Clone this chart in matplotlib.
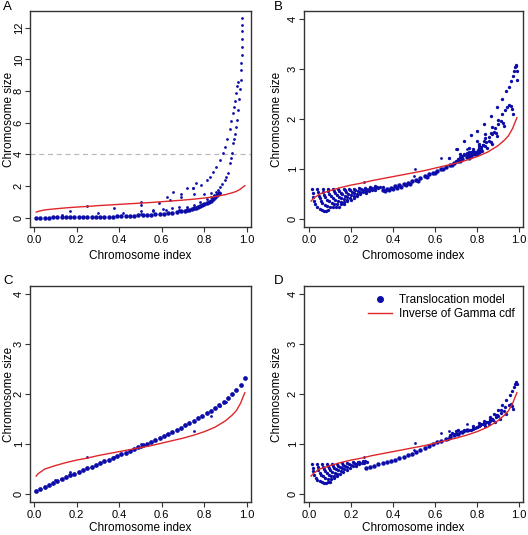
import matplotlib
matplotlib.use("Agg")
import matplotlib.pyplot as plt
import numpy as np
from matplotlib.lines import Line2D

plt.rcParams['font.family'] = ['Liberation Sans', 'DejaVu Sans']

# ---- reference curve: inverse of Gamma cdf ----
red_x = [0.01, 0.02, 0.05, 0.1, 0.15, 0.2, 0.25, 0.3, 0.35, 0.4, 0.45, 0.5, 0.55,
         0.6, 0.65, 0.7, 0.75, 0.8, 0.85, 0.9, 0.93, 0.95, 0.97, 0.98, 0.99]
red_y = [0.35, 0.40, 0.49, 0.56, 0.62, 0.67, 0.71, 0.76, 0.80, 0.84, 0.88, 0.92, 0.96,
         1.01, 1.06, 1.11, 1.17, 1.24, 1.33, 1.46, 1.57, 1.66, 1.81, 1.92, 2.02]

# ---- panel A ----
a_band_x = [0.01, 0.03, 0.05, 0.07, 0.09, 0.11, 0.13, 0.15, 0.17, 0.19, 0.21, 0.23, 0.25,
            0.27, 0.29, 0.31, 0.33, 0.35, 0.37, 0.39, 0.41, 0.43, 0.45, 0.47, 0.49, 0.51,
            0.53, 0.55, 0.57, 0.59, 0.61, 0.63, 0.65, 0.67, 0.69, 0.71, 0.72, 0.73, 0.74,
            0.75, 0.76, 0.77, 0.78, 0.79, 0.80, 0.81, 0.82, 0.83, 0.84, 0.85, 0.86, 0.87]
a_band_y = [0.01, 0.01, 0.01, 0.01, 0.02, 0.02, 0.02, 0.02, 0.03, 0.03, 0.03, 0.04, 0.04,
            0.04, 0.05, 0.05, 0.06, 0.07, 0.07, 0.08, 0.09, 0.10, 0.11, 0.12, 0.14, 0.15,
            0.17, 0.19, 0.21, 0.23, 0.26, 0.29, 0.32, 0.36, 0.40, 0.45, 0.48, 0.51, 0.55,
            0.58, 0.62, 0.67, 0.72, 0.78, 0.84, 0.90, 0.98, 1.06, 1.16, 1.28, 1.42, 1.58]
a_fringe_x = [0.56, 0.606, 0.65, 0.68, 0.72, 0.75, 0.78, 0.81]
a_fringe_y = [0.49, 0.53, 0.60, 0.65, 0.70, 0.80, 1.00, 1.20]
a_mid_x = [0.83, 0.845, 0.855, 0.865, 0.875, 0.885, 0.895, 0.903, 0.911, 0.919, 0.925,
           0.93, 0.934, 0.94, 0.945, 0.95, 0.955, 0.96, 0.963, 0.966, 0.97, 0.972,
           0.974, 0.975, 0.976, 0.977, 0.978, 0.978, 0.979]
a_mid_y = [1.3, 1.45, 1.6, 1.75, 1.95, 2.15, 2.4, 2.6, 2.8, 3.44, 3.8, 4.07, 4.7, 5.0,
           5.3, 5.7, 6.17, 6.8, 7.5, 8.1, 8.7, 9.3, 9.8, 10.3, 10.8, 11.3, 11.8, 12.2, 12.6]
a_up_x = [0.654, 0.69, 0.717, 0.747, 0.763, 0.785, 0.81, 0.825, 0.84, 0.856, 0.872, 0.887,
          0.895, 0.906, 0.919, 0.926, 0.933, 0.938, 0.943, 0.948, 0.952, 0.956]
a_up_y = [1.6, 1.5, 1.9, 1.86, 2.2, 2.07, 2.38, 2.59, 2.9, 3.2, 3.64, 4.07,
          4.48, 5.0, 5.6, 6.1, 6.6, 7.0, 7.4, 7.9, 8.3, 8.6]
a_iso_x = [0.13, 0.17, 0.25, 0.3, 0.377, 0.42, 0.5, 0.5, 0.5, 0.5, 0.56, 0.585, 0.62,
           0.623, 0.64, 0.68, 0.69, 0.745, 0.75, 0.8, 0.833, 0.875]
a_iso_y = [0.17, 0.42, 0.74, 0.3, 0.63, 0.3, 1.01, 0.8, 0.4, 0.2, 0.44, 0.95, 0.5,
           1.29, 1.1, 0.5, 1.28, 1.86, 1.5, 1.5, 1.55, 1.55]

# ---- panel B ----
b_arc_x = [0.015, 0.017, 0.02, 0.025, 0.03, 0.04, 0.05, 0.06, 0.07, 0.08, 0.09,
           0.04, 0.042, 0.046, 0.05, 0.056, 0.064, 0.075, 0.085, 0.1, 0.115, 0.13, 0.145,
           0.065, 0.067, 0.071, 0.077, 0.085, 0.095, 0.107, 0.12, 0.135, 0.15, 0.165,
           0.09, 0.092, 0.097, 0.104, 0.113, 0.124, 0.137, 0.151, 0.166, 0.18,
           0.115, 0.118, 0.124, 0.132, 0.142, 0.154, 0.168, 0.183, 0.198,
           0.14, 0.143, 0.15, 0.159, 0.17, 0.183, 0.197, 0.212,
           0.165, 0.169, 0.177, 0.187, 0.199, 0.213, 0.228,
           0.19, 0.195, 0.204, 0.215, 0.228, 0.243,
           0.215, 0.221, 0.231, 0.243, 0.257, 0.272,
           0.24, 0.247, 0.258, 0.271, 0.286,
           0.265, 0.273, 0.285, 0.299, 0.314,
           0.29, 0.299, 0.312, 0.327,
           0.315, 0.325, 0.339, 0.354]
b_arc_y = [0.6, 0.52, 0.44, 0.36, 0.3, 0.23, 0.19, 0.17, 0.16, 0.16, 0.17,
           0.6, 0.53, 0.46, 0.41, 0.36, 0.32, 0.28, 0.26, 0.24, 0.23, 0.23, 0.24,
           0.6, 0.54, 0.48, 0.43, 0.38, 0.35, 0.32, 0.3, 0.29, 0.29, 0.3,
           0.6, 0.55, 0.5, 0.45, 0.41, 0.38, 0.36, 0.34, 0.34, 0.35,
           0.6, 0.56, 0.51, 0.47, 0.44, 0.41, 0.39, 0.38, 0.38,
           0.6, 0.56, 0.52, 0.49, 0.46, 0.44, 0.42, 0.42,
           0.6, 0.57, 0.53, 0.5, 0.48, 0.46, 0.46,
           0.6, 0.57, 0.54, 0.52, 0.5, 0.49,
           0.6, 0.58, 0.56, 0.54, 0.53, 0.52,
           0.61, 0.59, 0.57, 0.56, 0.55,
           0.62, 0.6, 0.59, 0.58, 0.58,
           0.63, 0.62, 0.61, 0.61,
           0.65, 0.64, 0.63, 0.64]
b_band_x = [0.35, 0.37, 0.39, 0.41, 0.43, 0.45, 0.47, 0.49, 0.51, 0.53, 0.55, 0.57, 0.59,
            0.61, 0.63, 0.65, 0.67, 0.69, 0.71, 0.73, 0.75, 0.77, 0.79, 0.81]
b_band_y = [0.57, 0.60, 0.62, 0.65, 0.67, 0.69, 0.72, 0.75, 0.78, 0.81, 0.85, 0.89, 0.92,
            0.96, 1.00, 1.04, 1.08, 1.12, 1.16, 1.19, 1.23, 1.26, 1.30, 1.33]
b_band2_x = [0.36, 0.38, 0.40, 0.42, 0.44, 0.46, 0.48, 0.52, 0.56, 0.60, 0.64, 0.68,
             0.72, 0.76, 0.80]
b_band2_y = [0.55, 0.57, 0.60, 0.62, 0.64, 0.67, 0.70, 0.76, 0.83, 0.91, 0.99, 1.07,
             1.15, 1.22, 1.29]
b_fan_x = [0.667, 0.706, 0.738, 0.77, 0.8, 0.833, 0.865, 0.897, 0.921, 0.94, 0.952, 0.962,
           0.97, 0.976, 0.98, 0.984, 0.987, 0.99, 0.992,
           0.72, 0.76, 0.8, 0.84, 0.87, 0.9, 0.92, 0.935, 0.945, 0.953, 0.96, 0.966, 0.972,
           0.74, 0.78, 0.81, 0.84, 0.865, 0.885, 0.9, 0.913, 0.922, 0.93,
           0.75, 0.78, 0.81, 0.835, 0.855, 0.87, 0.88, 0.89, 0.897,
           0.76, 0.79, 0.81, 0.83, 0.845, 0.857, 0.866, 0.872,
           0.77, 0.79, 0.805, 0.82, 0.83, 0.84, 0.846,
           0.78, 0.795, 0.81, 0.82, 0.826,
           0.7, 0.71, 0.72, 0.73, 0.74, 0.75, 0.76, 0.77]
b_fan_y = [1.22, 1.39, 1.56, 1.67, 1.76, 1.9, 2.06, 2.23, 2.4, 2.55, 2.64, 2.75,
           2.85, 2.95, 3.03, 3.08, 3.05, 2.95, 2.78,
           1.3, 1.42, 1.55, 1.7, 1.84, 1.98, 2.1, 2.18, 2.24, 2.28, 2.26, 2.2, 2.1,
           1.28, 1.4, 1.5, 1.62, 1.72, 1.82, 1.9, 1.95, 1.92, 1.86,
           1.27, 1.36, 1.45, 1.55, 1.63, 1.69, 1.73, 1.71, 1.66,
           1.27, 1.34, 1.41, 1.48, 1.53, 1.56, 1.54, 1.5,
           1.28, 1.33, 1.38, 1.43, 1.47, 1.46, 1.42,
           1.3, 1.34, 1.38, 1.39, 1.36,
           1.16, 1.2, 1.23, 1.26, 1.29, 1.31, 1.33, 1.34]
b_iso_x = [0.26, 0.505, 0.5, 0.63, 0.70, 0.75]
b_iso_y = [0.73, 0.99, 0.85, 1.22, 1.39, 1.40]

# ---- panel C ----
c_x = [0.01, 0.03, 0.05, 0.07, 0.09, 0.11, 0.13, 0.15, 0.17, 0.19, 0.21, 0.23, 0.25,
       0.27, 0.29, 0.31, 0.33, 0.35, 0.37, 0.39, 0.41, 0.43, 0.45, 0.47, 0.49, 0.51,
       0.53, 0.55, 0.57, 0.59, 0.61, 0.63, 0.65, 0.67, 0.69, 0.71, 0.73, 0.75, 0.77,
       0.79, 0.81, 0.83, 0.85, 0.87, 0.89, 0.91, 0.93, 0.95, 0.97, 0.99]
c_y = [0.06, 0.10, 0.14, 0.18, 0.22, 0.26, 0.30, 0.33, 0.37, 0.40, 0.44, 0.47, 0.51,
       0.54, 0.58, 0.61, 0.65, 0.68, 0.72, 0.75, 0.79, 0.82, 0.86, 0.89, 0.93, 0.97,
       1.00, 1.04, 1.08, 1.12, 1.16, 1.20, 1.24, 1.28, 1.32, 1.37, 1.41, 1.46, 1.51,
       1.56, 1.61, 1.66, 1.72, 1.78, 1.84, 1.91, 1.99, 2.07, 2.17, 2.32]
c_iso_x = [0.1, 0.125, 0.167, 0.25, 0.375, 0.5, 0.5, 0.625, 0.75, 0.833, 0.875, 0.9]
c_iso_y = [0.27, 0.30, 0.43, 0.74, 0.73, 1.0, 0.93, 1.19, 1.26, 1.55, 1.75, 1.83]

# ---- panel D ----
d_arc_x = [0.015, 0.017, 0.02, 0.025, 0.032, 0.04, 0.05, 0.06, 0.07, 0.08, 0.09, 0.1,
           0.039, 0.041, 0.045, 0.05, 0.057, 0.066, 0.077, 0.09, 0.104, 0.118,
           0.063, 0.065, 0.07, 0.076, 0.084, 0.094, 0.106, 0.12, 0.135,
           0.087, 0.09, 0.095, 0.102, 0.111, 0.122, 0.135, 0.149,
           0.111, 0.114, 0.12, 0.128, 0.138, 0.15, 0.164,
           0.135, 0.139, 0.146, 0.155, 0.166, 0.179,
           0.159, 0.164, 0.172, 0.182, 0.194,
           0.183, 0.189, 0.198, 0.21, 0.223,
           0.207, 0.214, 0.224, 0.237,
           0.231, 0.239, 0.25, 0.263,
           0.255, 0.265, 0.278]
d_arc_y = [0.6, 0.52, 0.45, 0.38, 0.32, 0.28, 0.25, 0.23, 0.22, 0.22, 0.23, 0.24,
           0.6, 0.53, 0.47, 0.42, 0.38, 0.35, 0.32, 0.3, 0.3, 0.31,
           0.6, 0.54, 0.49, 0.45, 0.41, 0.38, 0.36, 0.35, 0.35,
           0.6, 0.55, 0.51, 0.47, 0.44, 0.42, 0.4, 0.4,
           0.6, 0.56, 0.52, 0.49, 0.47, 0.45, 0.44,
           0.6, 0.56, 0.53, 0.51, 0.49, 0.48,
           0.61, 0.58, 0.55, 0.53, 0.52,
           0.62, 0.6, 0.58, 0.56, 0.55,
           0.63, 0.61, 0.6, 0.59,
           0.64, 0.63, 0.62, 0.61,
           0.66, 0.65, 0.64]
d_band_x = [0.27, 0.29, 0.31, 0.33, 0.35, 0.37, 0.39, 0.41, 0.43, 0.45, 0.47, 0.49, 0.51,
            0.53, 0.55, 0.57, 0.59, 0.61, 0.63, 0.65, 0.67, 0.69, 0.71, 0.73, 0.75]
d_band_y = [0.52, 0.54, 0.56, 0.59, 0.61, 0.63, 0.66, 0.68, 0.71, 0.74, 0.77, 0.80, 0.84,
            0.88, 0.92, 0.96, 1.00, 1.03, 1.06, 1.10, 1.13, 1.17, 1.20, 1.24, 1.28]
d_fan_x = [0.7, 0.74, 0.78, 0.81, 0.833, 0.86, 0.88, 0.9, 0.92, 0.94, 0.955, 0.965,
           0.975, 0.982, 0.988, 0.992,
           0.74, 0.78, 0.82, 0.86, 0.89, 0.915, 0.935, 0.95, 0.96, 0.967, 0.972,
           0.76, 0.8, 0.84, 0.87, 0.895, 0.915, 0.93, 0.94,
           0.77, 0.81, 0.845, 0.87, 0.89, 0.9, 0.908,
           0.78, 0.81, 0.84, 0.86, 0.875, 0.884,
           0.79, 0.815, 0.835, 0.85, 0.858,
           0.8, 0.815, 0.83, 0.836,
           0.66, 0.67, 0.68, 0.69, 0.7, 0.71, 0.72]
d_fan_y = [1.2, 1.27, 1.35, 1.41, 1.45, 1.53, 1.6, 1.68, 1.77, 1.88, 1.97, 2.05,
           2.13, 2.19, 2.23, 2.2,
           1.25, 1.32, 1.4, 1.5, 1.58, 1.67, 1.74, 1.78, 1.8, 1.76, 1.7,
           1.27, 1.34, 1.43, 1.5, 1.57, 1.62, 1.65, 1.6,
           1.28, 1.36, 1.43, 1.49, 1.53, 1.55, 1.5,
           1.3, 1.36, 1.42, 1.46, 1.48, 1.44,
           1.32, 1.37, 1.41, 1.43, 1.39,
           1.34, 1.37, 1.39, 1.36,
           1.1, 1.17, 1.22, 1.2, 1.25, 1.28, 1.24]
d_iso_x = [0.26, 0.505, 0.5, 0.63, 0.667, 0.75]
d_iso_y = [0.73, 1.01, 0.88, 1.22, 1.25, 1.40]

BLUE = '#0c0ca8'
RED = '#e0262a'


def setup(ax, ylim, yticks, xlim, ylab_x, xlab_y):
    ax.set_xlim(*xlim)
    ax.set_ylim(*ylim)
    ax.set_xticks([0.0, 0.2, 0.4, 0.6, 0.8, 1.0])
    ax.set_xticklabels(['0.0', '0.2', '0.4', '0.6', '0.8', '1.0'])
    ax.set_yticks(yticks)
    ax.set_yticklabels([str(t) for t in yticks], rotation=90, va='center')
    ax.tick_params(length=3.6, width=0.8, labelsize=8, pad=2, color='#333333')
    ax.tick_params(axis='y', pad=1)
    for s in ax.spines.values():
        s.set_linewidth(1.0)
        s.set_color('#333333')
    ax.set_xlabel('Chromosome index', fontsize=8.5)
    ax.set_ylabel('Chromosome size', fontsize=8.5)
    ax.xaxis.set_label_coords(0.5, xlab_y)
    ax.yaxis.set_label_coords(ylab_x, 0.5)


def dots(ax, x, y, ms=2.0):
    ax.plot(x, y, 'o', color=BLUE, ms=ms, mew=0, linestyle='none')


fig = plt.figure(figsize=(5.28, 5.35), dpi=100)
W, H = 528, 535


def box(l, t, r, b):
    return [l / W, (H - b) / H, (r - l) / W, (b - t) / H]


axA = fig.add_axes(box(30, 11, 251, 227))
axB = fig.add_axes(box(304, 11, 523, 227))
axC = fig.add_axes(box(30, 286, 251, 502))
axD = fig.add_axes(box(304, 286, 523, 502))

# A
axA.axhline(4, color='#bbbbbb', lw=0.9, ls=(0, (4, 3)))
dots(axA, a_band_x, a_band_y, 3.2)
dots(axA, a_fringe_x, a_fringe_y)
dots(axA, a_mid_x, a_mid_y)
dots(axA, a_up_x, a_up_y)
dots(axA, a_iso_x, a_iso_y)
axA.plot(red_x, red_y, color=RED, lw=1.0)
setup(axA, (-0.59, 13.06), [0, 2, 4, 6, 8, 10, 12], (-0.019, 1.019), -0.068, -0.105)

# B
dots(axB, b_arc_x, b_arc_y, 2.4)
dots(axB, b_band_x, b_band_y, 3.2)
dots(axB, b_band2_x, b_band2_y, 3.0)
dots(axB, b_fan_x, b_fan_y, 2.4)
dots(axB, b_iso_x, b_iso_y)
axB.plot(red_x, red_y, color=RED, lw=1.0)
setup(axB, (-0.17, 4.16), [0, 1, 2, 3, 4], (-0.024, 1.019), -0.098, -0.105)

# C
dots(axC, c_x, c_y, 3.4)
dots(axC, c_iso_x, c_iso_y)
axC.plot(red_x, red_y, color=RED, lw=1.0)
setup(axC, (-0.17, 4.16), [0, 1, 2, 3, 4], (-0.019, 1.019), -0.068, -0.094)

# D
dots(axD, d_arc_x, d_arc_y, 2.4)
dots(axD, d_band_x, d_band_y, 3.2)
dots(axD, d_fan_x, d_fan_y, 2.4)
dots(axD, d_iso_x, d_iso_y)
axD.plot(red_x, red_y, color=RED, lw=1.0)
setup(axD, (-0.17, 4.16), [0, 1, 2, 3, 4], (-0.024, 1.019), -0.098, -0.094)

handles = [Line2D([], [], marker='o', color=BLUE, ms=4, linestyle='none'),
           Line2D([], [], color=RED, lw=1.0)]
axD.legend(handles, ['Translocation model', 'Inverse of Gamma cdf'], frameon=False,
           loc='upper right', fontsize=8.5, handlelength=2.0, borderaxespad=0.3,
           labelspacing=0.15, handletextpad=0.6)

for lab, xp, yp in [('A', 3, 1), ('B', 274, 1), ('C', 3, 275), ('D', 274, 275)]:
    fig.text(xp / W, 1 - yp / H, lab, fontsize=9.5, va='top', ha='left')

fig.savefig('out.png', dpi=100)
